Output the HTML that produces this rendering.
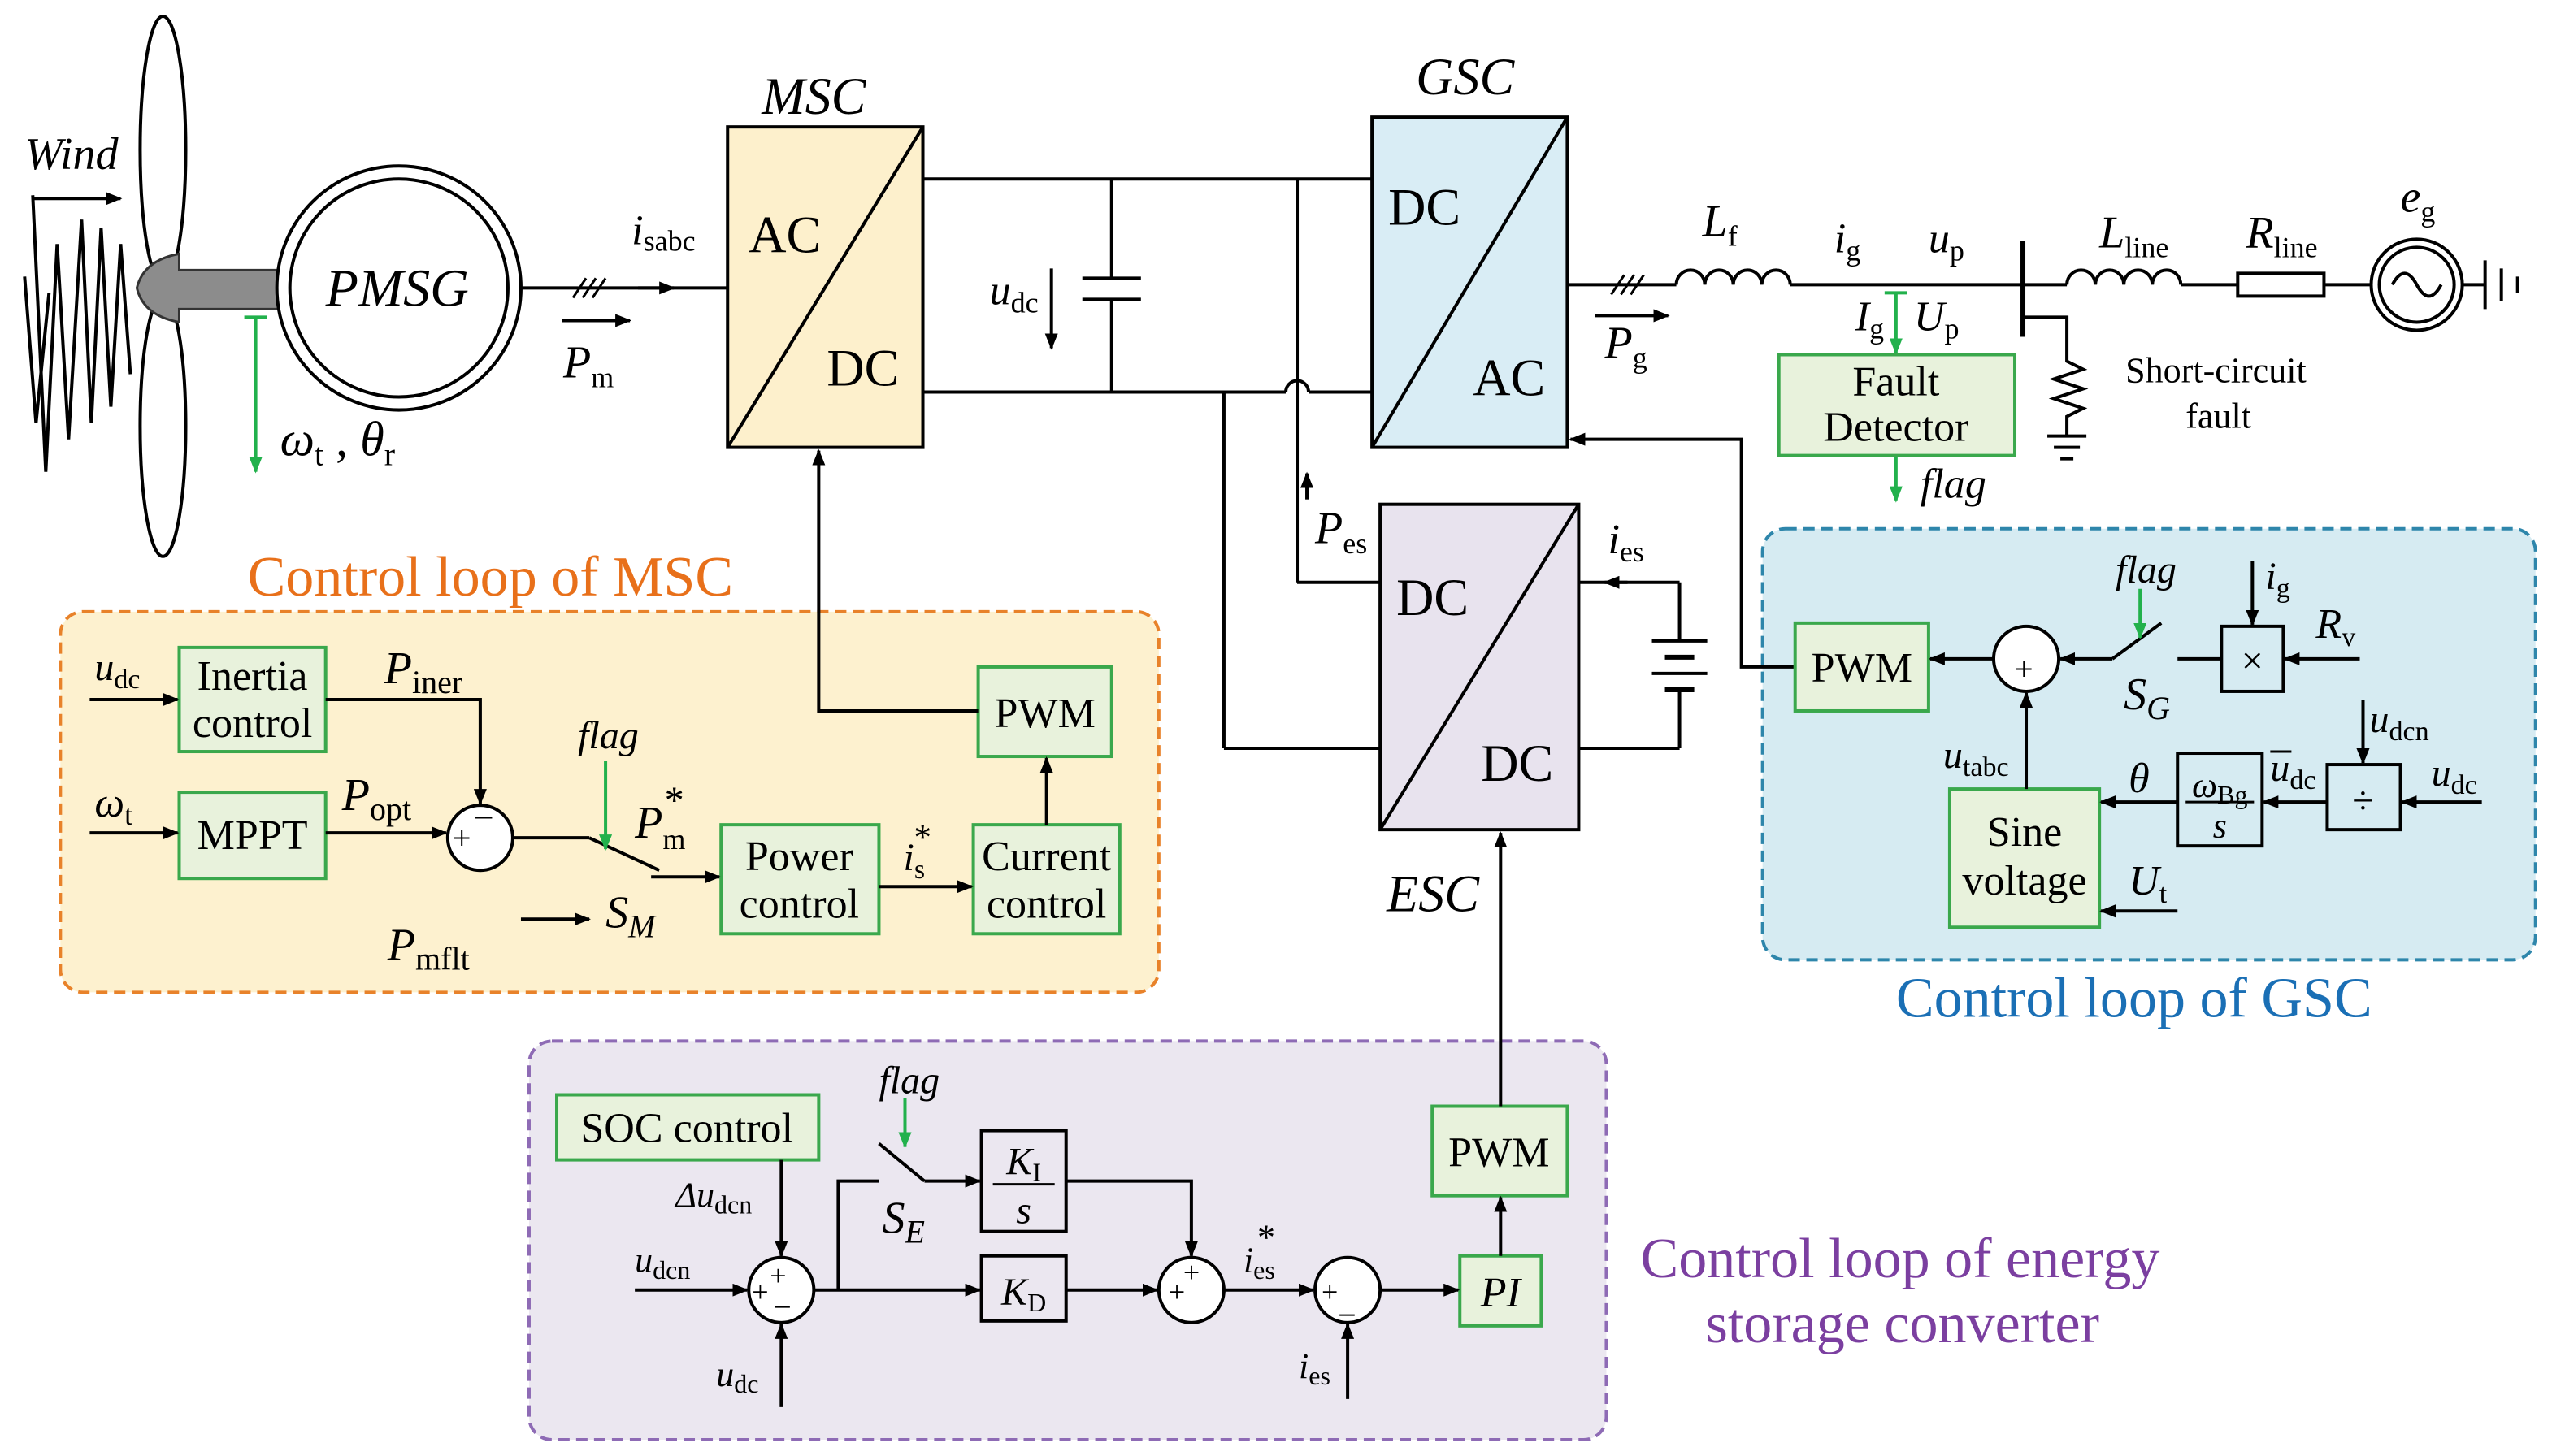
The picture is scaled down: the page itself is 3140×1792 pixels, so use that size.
<!DOCTYPE html>
<html><head><meta charset="utf-8"><style>
html,body{margin:0;padding:0;background:#fff}
svg{display:block}
text{font-family:"Liberation Serif",serif;fill:#000}
.i{font-style:italic}
</style></head><body>
<svg width="3140" height="1792" viewBox="0 0 1568 895" xmlns="http://www.w3.org/2000/svg">
<defs>
<marker id="a" markerWidth="10" markerHeight="8" refX="9" refY="4" orient="auto" markerUnits="userSpaceOnUse"><path d="M0,0L10,4L0,8z" fill="#000"/></marker>
<marker id="g" markerWidth="10" markerHeight="8" refX="9" refY="4" orient="auto" markerUnits="userSpaceOnUse"><path d="M0,0L10,4L0,8z" fill="#22b14c"/></marker>
</defs>
<g stroke="#000" stroke-width="2" fill="none">
<rect x="37" y="376" width="675" height="234" rx="14" fill="#fdf1cf" stroke="#e8822a" stroke-dasharray="7,4"/>
<rect x="1083" y="325" width="475" height="265" rx="14" fill="#d6ebf2" stroke="#2e86ab" stroke-dasharray="7,4"/>
<rect x="325" y="640" width="662" height="245" rx="14" fill="#ebe7f0" stroke="#8e6bb5" stroke-dasharray="7,4"/>

<path d="M20,120 L28,290 L35,150 L42,270 L50,135 L56,260 L62,140 L68,250 L74,150 L80,230"/>
<path d="M15,170 L22,260 L30,180"/>
<ellipse cx="100" cy="92" rx="14" ry="82" fill="#fff"/>
<ellipse cx="100" cy="262" rx="14" ry="80" fill="#fff"/>
<path d="M110,156 Q88,160 84,177 Q88,194 110,198 L110,190 L172,190 L172,166 L110,166 Z" fill="#8c8c8c" stroke="#333" stroke-width="1.5"/>
<circle cx="245" cy="177" r="75" fill="#fff"/>
<circle cx="245" cy="177" r="67"/>
<line x1="20" y1="122" x2="74" y2="122" marker-end="url(#a)"/>
<line x1="150" y1="195" x2="164" y2="195" stroke="#22b14c"/>
<line x1="157" y1="195" x2="157" y2="290" stroke="#22b14c" marker-end="url(#g)"/>

<line x1="320" y1="177" x2="447" y2="177"/>
<line x1="392" y1="177" x2="414" y2="177" marker-end="url(#a)"/>
<path d="M352,183l8,-12M358,183l8,-12M364,183l8,-12" stroke-width="1.5"/>
<line x1="345" y1="197" x2="387" y2="197" marker-end="url(#a)"/>

<rect x="447" y="78" width="120" height="197" fill="#fdf0cc"/>
<line x1="447" y1="275" x2="567" y2="78"/>
<line x1="567" y1="110" x2="843" y2="110"/>
<line x1="567" y1="241" x2="790" y2="241"/>
<path d="M790,241 A7,7 0 0 1 804,241"/>
<line x1="804" y1="241" x2="843" y2="241"/>
<line x1="683" y1="110" x2="683" y2="171"/>
<line x1="683" y1="184" x2="683" y2="241"/>
<line x1="665" y1="171" x2="701" y2="171"/>
<line x1="665" y1="184" x2="701" y2="184"/>
<line x1="646" y1="165" x2="646" y2="214" marker-end="url(#a)"/>
<line x1="797" y1="110" x2="797" y2="358"/>
<line x1="797" y1="358" x2="848" y2="358"/>
<line x1="752" y1="241" x2="752" y2="460"/>
<line x1="752" y1="460" x2="848" y2="460"/>
<line x1="803" y1="307" x2="803" y2="291" marker-end="url(#a)"/>

<rect x="843" y="72" width="120" height="203" fill="#d9edf5"/>
<line x1="843" y1="275" x2="963" y2="72"/>
<line x1="963" y1="175" x2="1030" y2="175"/>
<path d="M990,181l8,-12M996,181l8,-12M1002,181l8,-12" stroke-width="1.5"/>
<line x1="980" y1="194" x2="1025" y2="194" marker-end="url(#a)"/>
<path d="M1030,175 a8.75,9 0 0 1 17.5,0 a8.75,9 0 0 1 17.5,0 a8.75,9 0 0 1 17.5,0 a8.75,9 0 0 1 17.5,0"/>
<line x1="1100" y1="175" x2="1270" y2="175"/>
<line x1="1243" y1="148" x2="1243" y2="207" stroke-width="3"/>
<path d="M1270,175 a8.75,9 0 0 1 17.5,0 a8.75,9 0 0 1 17.5,0 a8.75,9 0 0 1 17.5,0 a8.75,9 0 0 1 17.5,0"/>
<line x1="1340" y1="175" x2="1375" y2="175"/>
<rect x="1375" y="168" width="53" height="14"/>
<line x1="1428" y1="175" x2="1457" y2="175"/>
<circle cx="1485" cy="175" r="28"/>
<circle cx="1485" cy="175" r="23"/>
<path d="M1470,175 q7.5,-14 15,0 t15,0"/>
<line x1="1513" y1="175" x2="1527" y2="175"/>
<line x1="1527" y1="160" x2="1527" y2="190"/>
<line x1="1537" y1="165" x2="1537" y2="185"/>
<line x1="1547" y1="170" x2="1547" y2="180"/>
<path d="M1243,195 L1270,195 L1270,222 L1280,227 L1262,233 L1280,239 L1262,245 L1280,251 L1270,256 L1270,268"/>
<line x1="1258" y1="268" x2="1282" y2="268"/>
<line x1="1262" y1="275" x2="1278" y2="275"/>
<line x1="1266" y1="282" x2="1274" y2="282"/>
<line x1="1158" y1="180" x2="1172" y2="180" stroke="#22b14c"/>
<line x1="1165" y1="180" x2="1165" y2="217" stroke="#22b14c" marker-end="url(#g)"/>
<rect x="1093" y="218" width="145" height="62" fill="#e8f2dc" stroke="#3aa84c"/>
<line x1="1165" y1="281" x2="1165" y2="308" stroke="#22b14c" marker-end="url(#g)"/>
<polyline points="1103,410 1070,410 1070,270 965,270" marker-end="url(#a)"/>

<rect x="848" y="310" width="122" height="200" fill="#e8e3ee"/>
<line x1="848" y1="510" x2="970" y2="310"/>
<line x1="970" y1="358" x2="1032" y2="358"/>
<line x1="1000" y1="358" x2="986" y2="358" marker-end="url(#a)"/>
<line x1="1032" y1="358" x2="1032" y2="394"/>
<line x1="1015" y1="394" x2="1049" y2="394"/>
<line x1="1023" y1="404" x2="1041" y2="404" stroke-width="3"/>
<line x1="1015" y1="414" x2="1049" y2="414"/>
<line x1="1023" y1="424" x2="1041" y2="424" stroke-width="3"/>
<line x1="1032" y1="424" x2="1032" y2="460"/>
<line x1="1032" y1="460" x2="970" y2="460"/>

<rect x="110" y="398" width="90" height="64" fill="#e8f2dc" stroke="#3aa84c"/>
<rect x="110" y="487" width="90" height="53" fill="#e8f2dc" stroke="#3aa84c"/>
<rect x="443" y="507" width="97" height="67" fill="#e8f2dc" stroke="#3aa84c"/>
<rect x="598" y="507" width="90" height="67" fill="#e8f2dc" stroke="#3aa84c"/>
<rect x="601" y="410" width="82" height="55" fill="#e8f2dc" stroke="#3aa84c"/>
<line x1="55" y1="430" x2="109" y2="430" marker-end="url(#a)"/>
<line x1="55" y1="512" x2="109" y2="512" marker-end="url(#a)"/>
<polyline points="200,430 295,430 295,494" marker-end="url(#a)"/>
<line x1="200" y1="512" x2="274" y2="512" marker-end="url(#a)"/>
<circle cx="295" cy="515" r="20" fill="#fff"/>
<line x1="315" y1="515" x2="362" y2="515"/>
<line x1="362" y1="515" x2="405" y2="535"/>
<line x1="320" y1="565" x2="362" y2="565" marker-end="url(#a)"/>
<line x1="400" y1="539" x2="442" y2="539" marker-end="url(#a)"/>
<line x1="372" y1="468" x2="372" y2="522" stroke="#22b14c" marker-end="url(#g)"/>
<line x1="540" y1="545" x2="597" y2="545" marker-end="url(#a)"/>
<line x1="643" y1="507" x2="643" y2="466" marker-end="url(#a)"/>
<polyline points="601,437 503,437 503,277" marker-end="url(#a)"/>

<rect x="1103" y="383" width="82" height="54" fill="#e8f2dc" stroke="#3aa84c"/>
<rect x="1198" y="485" width="92" height="85" fill="#e8f2dc" stroke="#3aa84c"/>
<rect x="1365" y="385" width="38" height="40"/>
<rect x="1338" y="463" width="52" height="57"/>
<rect x="1430" y="470" width="45" height="40"/>
<circle cx="1245" cy="405" r="20" fill="#fff"/>
<line x1="1225" y1="405" x2="1186" y2="405" marker-end="url(#a)"/>
<line x1="1298" y1="405" x2="1266" y2="405" marker-end="url(#a)"/>
<line x1="1298" y1="405" x2="1328" y2="383"/>
<line x1="1338" y1="405" x2="1365" y2="405"/>
<line x1="1315" y1="362" x2="1315" y2="392" stroke="#22b14c" marker-end="url(#g)"/>
<line x1="1384" y1="345" x2="1384" y2="384" marker-end="url(#a)"/>
<line x1="1450" y1="405" x2="1404" y2="405" marker-end="url(#a)"/>
<line x1="1245" y1="485" x2="1245" y2="426" marker-end="url(#a)"/>
<line x1="1338" y1="493" x2="1291" y2="493" marker-end="url(#a)"/>
<line x1="1430" y1="493" x2="1391" y2="493" marker-end="url(#a)"/>
<line x1="1452" y1="430" x2="1452" y2="469" marker-end="url(#a)"/>
<line x1="1525" y1="493" x2="1476" y2="493" marker-end="url(#a)"/>
<line x1="1338" y1="560" x2="1291" y2="560" marker-end="url(#a)"/>
<line x1="1343" y1="493" x2="1385" y2="493" stroke-width="1.5"/>

<rect x="342" y="673" width="161" height="40" fill="#e8f2dc" stroke="#3aa84c"/>
<rect x="603" y="695" width="52" height="62"/>
<line x1="610" y1="728" x2="648" y2="728" stroke-width="1.5"/>
<rect x="603" y="772" width="52" height="40"/>
<rect x="897" y="772" width="50" height="43" fill="#e8f2dc" stroke="#3aa84c"/>
<rect x="880" y="680" width="83" height="55" fill="#e8f2dc" stroke="#3aa84c"/>
<line x1="480" y1="713" x2="480" y2="772" marker-end="url(#a)"/>
<circle cx="480" cy="793" r="20" fill="#fff"/>
<line x1="390" y1="793" x2="459" y2="793" marker-end="url(#a)"/>
<line x1="480" y1="865" x2="480" y2="814" marker-end="url(#a)"/>
<line x1="500" y1="793" x2="602" y2="793" marker-end="url(#a)"/>
<polyline points="515,793 515,726 540,726"/>
<line x1="540" y1="703" x2="568" y2="726"/>
<line x1="568" y1="726" x2="602" y2="726" marker-end="url(#a)"/>
<line x1="556" y1="675" x2="556" y2="705" stroke="#22b14c" marker-end="url(#g)"/>
<polyline points="655,726 732,726 732,772" marker-end="url(#a)"/>
<line x1="655" y1="793" x2="711" y2="793" marker-end="url(#a)"/>
<circle cx="732" cy="793" r="20" fill="#fff"/>
<line x1="752" y1="793" x2="807" y2="793" marker-end="url(#a)"/>
<circle cx="828" cy="793" r="20" fill="#fff"/>
<line x1="828" y1="860" x2="828" y2="814" marker-end="url(#a)"/>
<line x1="848" y1="793" x2="896" y2="793" marker-end="url(#a)"/>
<line x1="922" y1="772" x2="922" y2="736" marker-end="url(#a)"/>
<line x1="922" y1="680" x2="922" y2="512" marker-end="url(#a)"/>
</g>

<g font-size="30">
<text x="15" y="104" class="i" font-size="28">Wind</text>
<text x="200" y="188" class="i" font-size="33">PMSG</text>
<text x="172" y="280" class="i">ω<tspan font-size="20" font-style="normal" dy="6">t</tspan><tspan dy="-6" font-style="normal"> , </tspan>θ<tspan font-size="20" font-style="normal" dy="6">r</tspan></text>
<text x="388" y="150" class="i" font-size="26">i<tspan font-size="18" font-style="normal" dy="4">sabc</tspan></text>
<text x="346" y="232" class="i" font-size="28">P<tspan font-size="18" font-style="normal" dy="6">m</tspan></text>
<text x="468" y="70" class="i" font-size="32">MSC</text>
<text x="460" y="155" font-size="32">AC</text>
<text x="508" y="237" font-size="32">DC</text>
<text x="608" y="187" class="i" font-size="26">u<tspan font-size="18" font-style="normal" dy="5">dc</tspan></text>
<text x="870" y="58" class="i" font-size="32">GSC</text>
<text x="853" y="138" font-size="32">DC</text>
<text x="905" y="243" font-size="32">AC</text>
<text x="986" y="220" class="i" font-size="28">P<tspan font-size="18" font-style="normal" dy="6">g</tspan></text>
<text x="1046" y="145" class="i" font-size="28">L<tspan font-size="18" font-style="normal" dy="6">f</tspan></text>
<text x="1127" y="155" class="i" font-size="26">i<tspan font-size="18" font-style="normal" dy="5">g</tspan></text>
<text x="1185" y="155" class="i" font-size="26">u<tspan font-size="18" font-style="normal" dy="5">p</tspan></text>
<text x="1140" y="203" class="i" font-size="26">I<tspan font-size="18" font-style="normal" dy="5">g</tspan></text>
<text x="1176" y="203" class="i" font-size="26">U<tspan font-size="18" font-style="normal" dy="5">p</tspan></text>
<text x="1290" y="152" class="i" font-size="28">L<tspan font-size="18" font-style="normal" dy="6">line</tspan></text>
<text x="1380" y="152" class="i" font-size="28">R<tspan font-size="18" font-style="normal" dy="6">line</tspan></text>
<text x="1475" y="130" class="i" font-size="28">e<tspan font-size="18" font-style="normal" dy="6">g</tspan></text>
<text x="1165" y="243" font-size="26" text-anchor="middle">Fault</text>
<text x="1165" y="271" font-size="26" text-anchor="middle">Detector</text>
<text x="1180" y="306" class="i" font-size="26">flag</text>
<text x="1306" y="235" font-size="22">Short-circuit</text>
<text x="1343" y="263" font-size="22">fault</text>
<text x="808" y="334" class="i" font-size="28">P<tspan font-size="18" font-style="normal" dy="6">es</tspan></text>
<text x="988" y="340" class="i" font-size="26">i<tspan font-size="18" font-style="normal" dy="5">es</tspan></text>
<text x="858" y="378" font-size="32">DC</text>
<text x="910" y="480" font-size="32">DC</text>
<text x="852" y="560" class="i" font-size="32">ESC</text>

<text x="152" y="366" font-size="35" style="fill:#e8701a">Control loop of MSC</text>
<text x="58" y="418" class="i" font-size="24">u<tspan font-size="17" font-style="normal" dy="5">dc</tspan></text>
<text x="155" y="424" font-size="26" text-anchor="middle">Inertia</text>
<text x="155" y="453" font-size="26" text-anchor="middle">control</text>
<text x="236" y="420" class="i" font-size="28">P<tspan font-size="20" font-style="normal" dy="6">iner</tspan></text>
<text x="58" y="502" class="i" font-size="26">ω<tspan font-size="18" font-style="normal" dy="5">t</tspan></text>
<text x="155" y="522" font-size="26" text-anchor="middle">MPPT</text>
<text x="210" y="498" class="i" font-size="28">P<tspan font-size="20" font-style="normal" dy="6">opt</tspan></text>
<text x="278" y="522" font-size="20">+</text>
<text x="291" y="510" font-size="22">−</text>
<text x="355" y="460" class="i" font-size="24">flag</text>
<text x="390" y="515" class="i" font-size="28">P<tspan font-size="18" font-style="normal" dy="7">m</tspan><tspan font-size="24" dx="-14" dy="-22">*</tspan></text>
<text x="238" y="590" class="i" font-size="28">P<tspan font-size="20" font-style="normal" dy="6">mflt</tspan></text>
<text x="372" y="570" class="i" font-size="28">S<tspan font-size="20" dy="6">M</tspan></text>
<text x="491" y="535" font-size="26" text-anchor="middle">Power</text>
<text x="491" y="564" font-size="26" text-anchor="middle">control</text>
<text x="555" y="535" class="i" font-size="24">i<tspan font-size="17" font-style="normal" dy="5">s</tspan><tspan font-size="22" dx="-8" dy="-18">*</tspan></text>
<text x="643" y="535" font-size="26" text-anchor="middle">Current</text>
<text x="643" y="564" font-size="26" text-anchor="middle">control</text>
<text x="642" y="447" font-size="26" text-anchor="middle">PWM</text>

<text x="1165" y="625" font-size="35" style="fill:#1a6fb5">Control loop of GSC</text>
<text x="1144" y="419" font-size="26" text-anchor="middle">PWM</text>
<text x="1238" y="418" font-size="20">+</text>
<text x="1300" y="358" class="i" font-size="24">flag</text>
<text x="1305" y="436" class="i" font-size="28">S<tspan font-size="20" dy="6">G</tspan></text>
<text x="1384" y="414" font-size="24" text-anchor="middle">×</text>
<text x="1392" y="362" class="i" font-size="24">i<tspan font-size="17" font-style="normal" dy="5">g</tspan></text>
<text x="1423" y="392" class="i" font-size="26">R<tspan font-size="17" font-style="normal" dy="5">v</tspan></text>
<text x="1456" y="450" class="i" font-size="24">u<tspan font-size="17" font-style="normal" dy="5">dcn</tspan></text>
<text x="1494" y="483" class="i" font-size="24">u<tspan font-size="17" font-style="normal" dy="5">dc</tspan></text>
<text x="1452" y="500" font-size="24" text-anchor="middle">÷</text>
<text x="1395" y="480" class="i" font-size="24">u<tspan font-size="17" font-style="normal" dy="5">dc</tspan></text>
<line x1="1395" y1="462" x2="1408" y2="462" stroke="#000" stroke-width="1.5"/>
<text x="1364" y="490" class="i" font-size="22" text-anchor="middle">ω<tspan font-size="16" font-style="normal" dy="4">Bg</tspan></text>
<text x="1364" y="515" class="i" font-size="22" text-anchor="middle">s</text>
<text x="1308" y="487" class="i" font-size="26">θ</text>
<text x="1194" y="472" class="i" font-size="24">u<tspan font-size="17" font-style="normal" dy="5">tabc</tspan></text>
<text x="1244" y="520" font-size="26" text-anchor="middle">Sine</text>
<text x="1244" y="550" font-size="26" text-anchor="middle">voltage</text>
<text x="1308" y="550" class="i" font-size="26">U<tspan font-size="17" font-style="normal" dy="5">t</tspan></text>

<text x="1008" y="785" font-size="35" style="fill:#7b3fa0">Control loop of energy</text>
<text x="1048" y="825" font-size="35" style="fill:#7b3fa0">storage converter</text>
<text x="422" y="702" font-size="26" text-anchor="middle">SOC control</text>
<text x="415" y="742" class="i" font-size="22">Δu<tspan font-size="16" font-style="normal" dy="4">dcn</tspan></text>
<text x="390" y="782" class="i" font-size="22">u<tspan font-size="16" font-style="normal" dy="4">dcn</tspan></text>
<text x="440" y="852" class="i" font-size="22">u<tspan font-size="16" font-style="normal" dy="4">dc</tspan></text>
<text x="473" y="790" font-size="18">+</text>
<text x="462" y="800" font-size="18">+</text>
<text x="475" y="810" font-size="20">−</text>
<text x="540" y="672" class="i" font-size="24">flag</text>
<text x="542" y="758" class="i" font-size="28">S<tspan font-size="20" dy="6">E</tspan></text>
<text x="629" y="722" class="i" font-size="24" text-anchor="middle">K<tspan font-size="16" font-style="normal" dy="4">I</tspan></text>
<text x="629" y="752" class="i" font-size="24" text-anchor="middle">s</text>
<text x="629" y="802" class="i" font-size="24" text-anchor="middle">K<tspan font-size="16" font-style="normal" dy="4">D</tspan></text>
<text x="718" y="800" font-size="18">+</text>
<text x="727" y="788" font-size="18">+</text>
<text x="764" y="782" class="i" font-size="22">i<tspan font-size="16" font-style="normal" dy="4">es</tspan><tspan font-size="22" dx="-12" dy="-18">*</tspan></text>
<text x="812" y="800" font-size="18">+</text>
<text x="822" y="815" font-size="20">−</text>
<text x="798" y="847" class="i" font-size="22">i<tspan font-size="16" font-style="normal" dy="4">es</tspan></text>
<text x="922" y="803" class="i" font-size="26" text-anchor="middle">PI</text>
<text x="921" y="717" font-size="26" text-anchor="middle">PWM</text>
</g>
</svg>
</body></html>
